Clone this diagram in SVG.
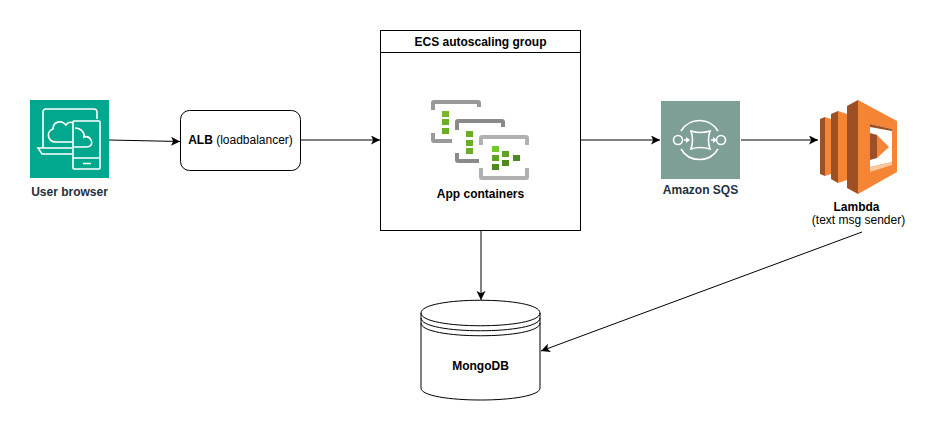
<svg xmlns="http://www.w3.org/2000/svg" width="936" height="431" viewBox="0 0 936 431">
<style>
text{font-family:"Liberation Sans",Arial,sans-serif;font-size:12px;fill:#000;text-anchor:middle}
.b{font-weight:bold}
.g{fill:#232F3E}
.n{fill:none;stroke:#000;stroke-width:1}
.w{fill:none;stroke:#fff;stroke-width:1.6}
.c{fill:none;stroke:#000;stroke-width:1}
.d{fill:#9D5025}
.o{fill:#F58534}
</style>
<defs>
<marker id="a" markerUnits="userSpaceOnUse" markerWidth="12" markerHeight="10" refX="9" refY="4.5" orient="auto"><path d="M0 0L9 4.500L0 9L2.200 4.500Z" fill="#000"/></marker>
</defs>
<rect width="936" height="431" fill="#fff"/>
<g id="connectors">
<path class="c" d="M109 140L180 141.500" marker-end="url(#a)"/>
<path class="c" d="M301 140L380 140" marker-end="url(#a)"/>
<path class="c" d="M581 140L660 140" marker-end="url(#a)"/>
<path class="c" d="M741 140L818 140" marker-end="url(#a)"/>
<path class="c" d="M481 231L481 300" marker-end="url(#a)"/>
<path class="c" d="M862 232L541 351" marker-end="url(#a)"/>
</g>
<g id="user-browser">
<rect x="30" y="100" width="79" height="78" fill="#01A88D"/>
<path class="w" d="M43 148V112Q43 109 46 109H94Q97 109 97 112V119M72 148H38L42 154H72"/>
<path class="w" d="M74 121H99Q100 121 100 122V168Q100 169 99 169H74Q73 169 73 168V122Q73 121 74 121ZM73 158H100M83 163.500H91"/>
<path class="w" d="M73 142H56C47 142 46 131 53 129C53 122 61 119 66 125C68 122 71 122 73 123"/>
<path class="w" d="M75 128C81 128 85 133 84 137C90 135 94 143 90 146C89 147 88 147 85 147H74"/>
<text class="b g" x="69.500" y="196">User browser</text>
</g>
<g id="alb">
<rect class="n" x="180.500" y="110.500" width="120" height="60" rx="9" fill="#fff"/>
<text x="240.500" y="144"><tspan class="b">ALB</tspan> (loadbalancer)</text>
</g>
<g id="ecs-group">
<rect class="n" x="380.500" y="30.500" width="200" height="200"/>
<path class="n" d="M380.500 52.500H580.500"/>
<text class="b" x="480.500" y="45.500">ECS autoscaling group</text>
<path d="M431 110V103Q431 100 434 100H478Q481 100 481 103V107H477V104H435V110ZM431 133H435V139H452V143H434Q431 143 431 140Z" fill="#999"/>
<rect x="442" y="111" width="7" height="6" fill="#76B82A"/>
<rect x="442" y="119" width="7" height="6" fill="#68AE26"/>
<rect x="442" y="128" width="7" height="6" fill="#68AE26"/>
<path d="M455 130V122Q455 119 458 119H502Q505 119 505 122V127H501V123H459V130ZM455 153H459V159H479V163H458Q455 163 455 160Z" fill="#8a8a8a"/>
<rect x="466" y="131" width="7" height="6" fill="#68AE26"/>
<rect x="466" y="140" width="7" height="6" fill="#68AE26"/>
<rect x="466" y="148" width="7" height="6" fill="#68AE26"/>
<path d="M479 145V138Q479 135 482 135H526Q529 135 529 138V145H525V139H483V145ZM479 168H483V176H525V168H529V177Q529 180 526 180H482Q479 180 479 177Z" fill="#b0b0b0"/>
<rect x="492" y="146" width="7" height="6" fill="#76C62C"/>
<rect x="492" y="155" width="7" height="6" fill="#5FA323"/>
<rect x="492" y="164" width="7" height="6" fill="#4F8A1B"/>
<rect x="502" y="151" width="7" height="6" fill="#5FA323"/>
<rect x="502" y="160" width="7" height="6" fill="#4F8A1B"/>
<rect x="513" y="155" width="7" height="6" fill="#4A8A20"/>
<text class="b" x="480.500" y="198">App containers</text>
</g>
<g id="sqs">
<rect x="661" y="101" width="79" height="78" fill="#7D9F95"/>
<circle class="w" cx="678" cy="140" r="4.500"/>
<circle class="w" cx="721" cy="140" r="4.500"/>
<path class="w" d="M681 131A21.500 21.500 0 0 1 718 131M681 149A21.500 21.500 0 0 0 718 149"/>
<path class="w" d="M691 131Q700 134 710 131Q707 140 710 149Q700 146 691 149Q694 140 691 131Z"/>
<path class="w" d="M684 140H689M711 140H716"/>
<path fill="#fff" d="M686 137L690 140L686 143ZM713 137L717 140L713 143Z"/>
<text class="b g" x="700.500" y="194">Amazon SQS</text>
</g>
<g id="lambda">
<path class="d" d="M820 119L825 117V176L820 174Z"/>
<path class="o" d="M825 117L831 119V174L825 176Z"/>
<path class="d" d="M831 114L838 111V183L831 179Z"/>
<path class="o" d="M838 111L847 114V180L838 183Z"/>
<path class="d" d="M847 106L858 100V194L847 188Z"/>
<path class="o" d="M858 100L897 121V172L858 194Z"/>
<path d="M870 124L892 129V162L870 167Z" fill="#fff"/>
<path class="d" d="M870 124L892 129V131L870 127Z"/>
<path d="M870 167L892 162V165L870 172Z" fill="#FBC79F"/>
<path class="d" d="M870 133L877 135V158L870 160Z"/>
<path class="o" d="M877 135L889 147L877 158Z"/>
<text class="b" x="856.500" y="211">Lambda</text>
<text x="858.500" y="224">(text msg sender)</text>
</g>
<g id="mongodb">
<path class="n" fill="#fff" d="M421 313C421 296 540 296 540 313V388C540 404 421 404 421 388Z"/>
<path class="n" d="M421 313C421 330 540 330 540 313M421 318C421 335 540 335 540 318M421 323C421 340 540 340 540 323"/>
<text class="b" x="480.500" y="370">MongoDB</text>
</g>
</svg>
